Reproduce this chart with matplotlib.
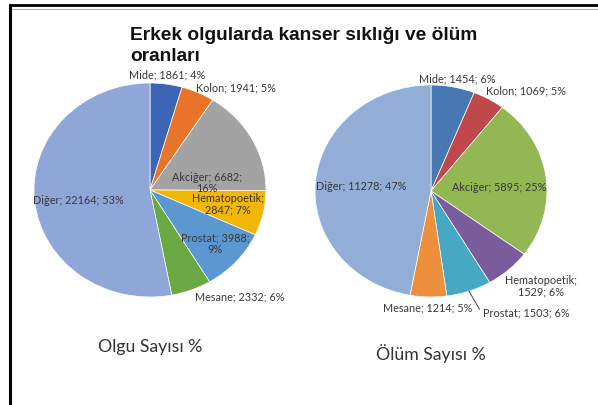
import numpy as np
import matplotlib.pyplot as plt
from matplotlib.lines import Line2D

W, H = 598, 406

# veriler
kanser = ['Mide', 'Kolon', 'Akciğer', 'Hematopoetik', 'Prostat', 'Mesane', 'Diğer']
olgu = [1861, 1941, 6682, 2847, 3988, 2332, 22164]
olgu_pct = [4, 5, 16, 7, 9, 6, 53]
olum = [1454, 1069, 5895, 1529, 1503, 1214, 11278]
olum_pct = [6, 5, 25, 6, 6, 5, 47]

renk_olgu = ['#3c66b5', '#e8742a', '#a3a3a3', '#f2b705', '#5b98d2', '#6aa842', '#8ea6d8']
renk_olum = ['#4878b4', '#c0474a', '#93b752', '#7a5c9c', '#46a8c2', '#ee8f3e', '#92aed6']

# etiket konumlari (piksel) ve satir kirilimi
poz_olgu = [(167, 75), (236, 88), (207, 183), (228, 204), (215, 244), (240, 297), (78, 201)]
kir_olgu = [None, None, 2, 1, 2, None, None]
poz_olum = [(457, 79), (526, 91), (499, 188), (541, 286), None, (428, 308), (361, 187)]
kir_olum = [None, None, None, 1, None, None, None]

etiket_renk = '#383838'
plt.rcParams['font.family'] = ['Lato', 'DejaVu Sans']


def etiket(ad, deger, yuzde, kir):
    parcalar = [ad, str(deger), f'{yuzde}%']
    s = parcalar[0]
    for i in range(1, 3):
        s += ';\n' if kir == i else '; '
        s += parcalar[i]
    return s


def fx(x, y):
    return x / W, 1 - y / H


fig = plt.figure(figsize=(W / 100, H / 100), dpi=100)


def pasta(cx, cy, rx, ry, vals, colors):
    ax = fig.add_axes([(cx - rx) / W, (H - cy - ry) / H, 2 * rx / W, 2 * ry / H])
    wedges, _ = ax.pie(vals, colors=colors, startangle=90, counterclock=False,
                       wedgeprops=dict(edgecolor='white', linewidth=0.5))
    ax.set_aspect('auto')
    ax.set_xlim(-1, 1)
    ax.set_ylim(-1, 1)
    ax.axis('off')
    return ax, wedges


ax1, w1 = pasta(150, 191, 116, 107, olgu, renk_olgu)
ax2, w2 = pasta(431, 192, 116, 106, olum, renk_olum)

for i, ad in enumerate(kanser):
    x, y = fx(*poz_olgu[i])
    fig.text(x, y, etiket(ad, olgu[i], olgu_pct[i], kir_olgu[i]), ha='center', va='center',
             fontsize=7.8, color=etiket_renk, multialignment='center', linespacing=1.05)

for i, ad in enumerate(kanser):
    s = etiket(ad, olum[i], olum_pct[i], kir_olum[i])
    if poz_olum[i] is None:
        # Prostat: kilavuz cizgili etiket
        w = w2[i]
        a = np.deg2rad((w.theta1 + w.theta2) / 2)
        ax2.annotate(s, xy=(np.cos(a), np.sin(a)), xytext=(483, H - 313),
                     textcoords='figure pixels', ha='left', va='center',
                     fontsize=7.8, color=etiket_renk,
                     arrowprops=dict(arrowstyle='-', color='#404040', lw=0.7,
                                     connectionstyle='angle,angleA=0,angleB=120,rad=0',
                                     relpos=(0, 0.5), shrinkA=1, shrinkB=0))
        continue
    x, y = fx(*poz_olum[i])
    fig.text(x, y, s, ha='center', va='center', fontsize=7.8, color=etiket_renk,
             multialignment='center', linespacing=1.05)

# baslik
fig.text(130 / W, 1 - 46 / H, 'Erkek olgularda kanser sıklığı ve ölüm\noranları',
         ha='left', va='center', fontsize=13.8, fontweight='bold',
         family='Liberation Sans', color='#111111', linespacing=1.25)
fig.text(*fx(150, 347), 'Olgu Sayısı %', ha='center', va='center', fontsize=12.7, color='#333333')
fig.text(*fx(431, 354), 'Ölüm Sayısı %', ha='center', va='center', fontsize=12.7, color='#333333')

# cerceve
fig.add_artist(Line2D([10 / W, 1], [1 - 6 / H, 1 - 6 / H], color='black', lw=2, transform=fig.transFigure))
fig.add_artist(Line2D([10 / W, 10 / W], [0, 1 - 6 / H], color='black', lw=2.2, transform=fig.transFigure))
fig.add_artist(Line2D([12 / W, 1], [1 - 9.5 / H, 1 - 9.5 / H], color='#9db4d6', lw=0.8, transform=fig.transFigure))

fig.savefig('out.png', dpi=100)
